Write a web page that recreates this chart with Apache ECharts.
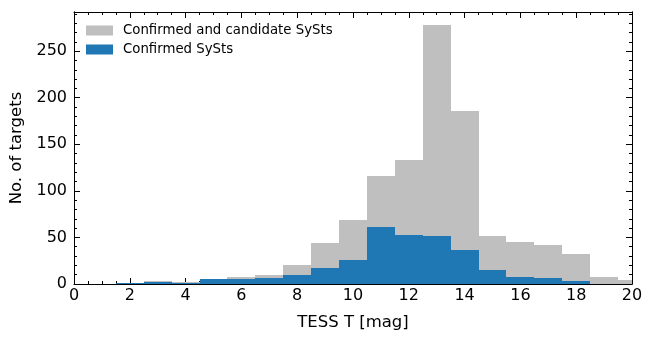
<!DOCTYPE html>
<html>
<head>
<meta charset="utf-8">
<script src="https://cdn.jsdelivr.net/npm/echarts@6/dist/echarts.min.js"></script>
<style>
  html, body { margin: 0; padding: 0; background: #fff; }
  #chart { width: 654px; height: 344px; }
</style>
</head>
<body>
<div id="chart"></div>
<script>
// histogram bins (left edges, width 1 mag)
const binStart = [1.5, 2.5, 3.5, 4.5, 5.5, 6.5, 7.5, 8.5, 9.5, 10.5, 11.5, 12.5, 13.5, 14.5, 15.5, 16.5, 17.5, 18.5, 19.5];
const binWidth = 1;
const allCounts = [1, 3, 2, 5, 7, 10, 20, 44, 69, 116, 133, 278, 186, 51, 45, 42, 32, 7, 4];
const confirmedCounts = [1, 2, 1, 5, 5, 6, 10, 17, 26, 61, 53, 51, 37, 15, 8, 6, 3, 0, 0];
const seriesNames = ['Confirmed and candidate SySts', 'Confirmed SySts'];
const xTicks = [0, 2, 4, 6, 8, 10, 12, 14, 16, 18, 20];
const yTicks = [0, 50, 100, 150, 200, 250];

const FONT = 'DejaVu Sans';
const xMin = xTicks[0], xMax = xTicks[xTicks.length - 1];
const yMax = 292;

const toRows = counts => binStart.map((s, i) => [s, s + binWidth, counts[i]]);

// snap edges to whole pixels so neighbouring bins touch
const renderBin = (params, api) => {
  const p0 = api.coord([api.value(0), api.value(2)]);
  const p1 = api.coord([api.value(1), 0]);
  const x0 = Math.round(p0[0]), x1 = Math.round(p1[0]);
  const y0 = Math.round(p0[1]), y1 = Math.round(p1[1]);
  return {
    type: 'rect',
    shape: { x: x0, y: y0, width: x1 - x0, height: y1 - y0 },
    style: api.style()
  };
};

const tickLine = { color: '#000', width: 1 };

const xAxisBase = (position, showLabel) => ({
  type: 'value',
  position: position,
  min: xMin,
  max: xMax,
  interval: 2,
  axisLine: { show: true, onZero: false, lineStyle: { color: '#000', width: 1 } },
  axisTick: { show: true, inside: true, length: 6, lineStyle: tickLine },
  minorTick: { show: true, splitNumber: 4, length: 3, lineStyle: tickLine },
  splitLine: { show: false },
  axisLabel: { show: showLabel, color: '#000', fontSize: 16, fontFamily: FONT, margin: 4 }
});

const yAxisBase = (position, interval, len, showLabel) => ({
  type: 'value',
  position: position,
  min: 0,
  max: yMax,
  interval: interval,
  axisLine: { show: true, onZero: false, lineStyle: { color: '#000', width: 1 } },
  axisTick: { show: true, inside: true, length: len, lineStyle: tickLine },
  splitLine: { show: false },
  axisLabel: {
    show: showLabel, color: '#000', fontSize: 16, fontFamily: FONT, margin: 7,
    showMaxLabel: false,
    formatter: v => (yTicks.indexOf(v) >= 0 ? String(v) : '')
  }
});

const chart = echarts.init(document.getElementById('chart'));

const yLeft = yAxisBase('left', 50, 6, true);
yLeft.name = 'No. of targets';
yLeft.nameLocation = 'middle';
yLeft.nameGap = 41;
yLeft.nameTextStyle = { color: '#000', fontSize: 16.5, fontFamily: FONT };

const xBottom = xAxisBase('bottom', true);
xBottom.name = 'TESS T [mag]';
xBottom.nameLocation = 'middle';
xBottom.nameGap = 30;
xBottom.nameTextStyle = { color: '#000', fontSize: 16.5, fontFamily: FONT };

chart.setOption({
  animation: false,
  backgroundColor: '#fff',
  grid: { left: 74, right: 22, top: 12, bottom: 60, containLabel: false, outerBoundsMode: 'none' },
  legend: {
    left: 86,
    top: 24,
    padding: 0,
    orient: 'vertical',
    icon: 'rect',
    itemWidth: 27,
    itemHeight: 10,
    itemGap: 6,
    data: seriesNames,
    textStyle: { color: '#000', fontSize: 13.3, fontFamily: FONT, padding: [0, 0, 0, 5] }
  },
  xAxis: [xBottom, xAxisBase('top', false)],
  yAxis: [
    yLeft,
    yAxisBase('left', 10, 3, false),
    yAxisBase('right', 50, 6, false),
    yAxisBase('right', 10, 3, false)
  ],
  series: [
    {
      name: seriesNames[0],
      type: 'custom',
      clip: true,
      renderItem: renderBin,
      itemStyle: { color: '#bfbfbf' },
      encode: { x: [0, 1], y: 2 },
      data: toRows(allCounts)
    },
    {
      name: seriesNames[1],
      type: 'custom',
      clip: true,
      renderItem: renderBin,
      itemStyle: { color: '#1f77b4' },
      encode: { x: [0, 1], y: 2 },
      data: toRows(confirmedCounts)
    }
  ]
});
</script>
</body>
</html>
